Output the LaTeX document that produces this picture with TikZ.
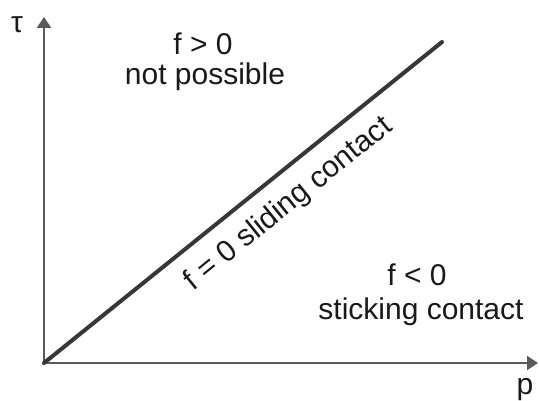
\documentclass[tikz,border=0pt]{standalone}
\usepackage{fontspec}
\setmainfont{Liberation Sans}
\usepackage{tikz}
\usetikzlibrary{arrows.meta, positioning}
\definecolor{axisgray}{RGB}{90,90,90}
\definecolor{linedark}{RGB}{55,55,55}
\definecolor{textdark}{RGB}{25,25,25}
\tikzset{
  axis/.style={line width=2pt, draw=axisgray, -{Triangle[length=11pt, width=14pt]}},
  boundary/.style={line width=4pt, draw=linedark, line cap=round},
  region/.style={anchor=base, inner sep=0pt, text=textdark, font=\fontsize{30}{34}\selectfont},
  axislabel/.style={anchor=base, inner sep=0pt, text=textdark, font=\fontsize{30}{34}\selectfont}
}
\begin{document}
\begin{tikzpicture}[x=1pt, y=1pt]
  \useasboundingbox (0,0) rectangle (539,401);
  \coordinate (origin) at (44,38);
  \coordinate (tautip) at (44,384);
  \coordinate (ptip) at (538,38);
  \coordinate (slideend) at (442,359);
  % axes
  \draw [axis] (origin) -- (tautip);
  \draw [axis] (origin) -- (ptip);
  \node (taulabel) [axislabel] at (17,368) {τ};
  \node (plabel) [axislabel] at (525,6) {p};
  % sliding line
  \draw [boundary] (origin) -- (slideend)
    node (slidelabel) [region, pos=0.567, sloped, below=14pt] {f = 0 sliding contact};
  % regions
  \node (fpos) [region] at (203,346) {f > 0};
  \node (notposs) [region] at (205,316) {not possible};
  \node (fneg) [region] at (417,115) {f < 0};
  \node (stick) [region] at (421,81) {sticking contact};
\end{tikzpicture}
\end{document}
